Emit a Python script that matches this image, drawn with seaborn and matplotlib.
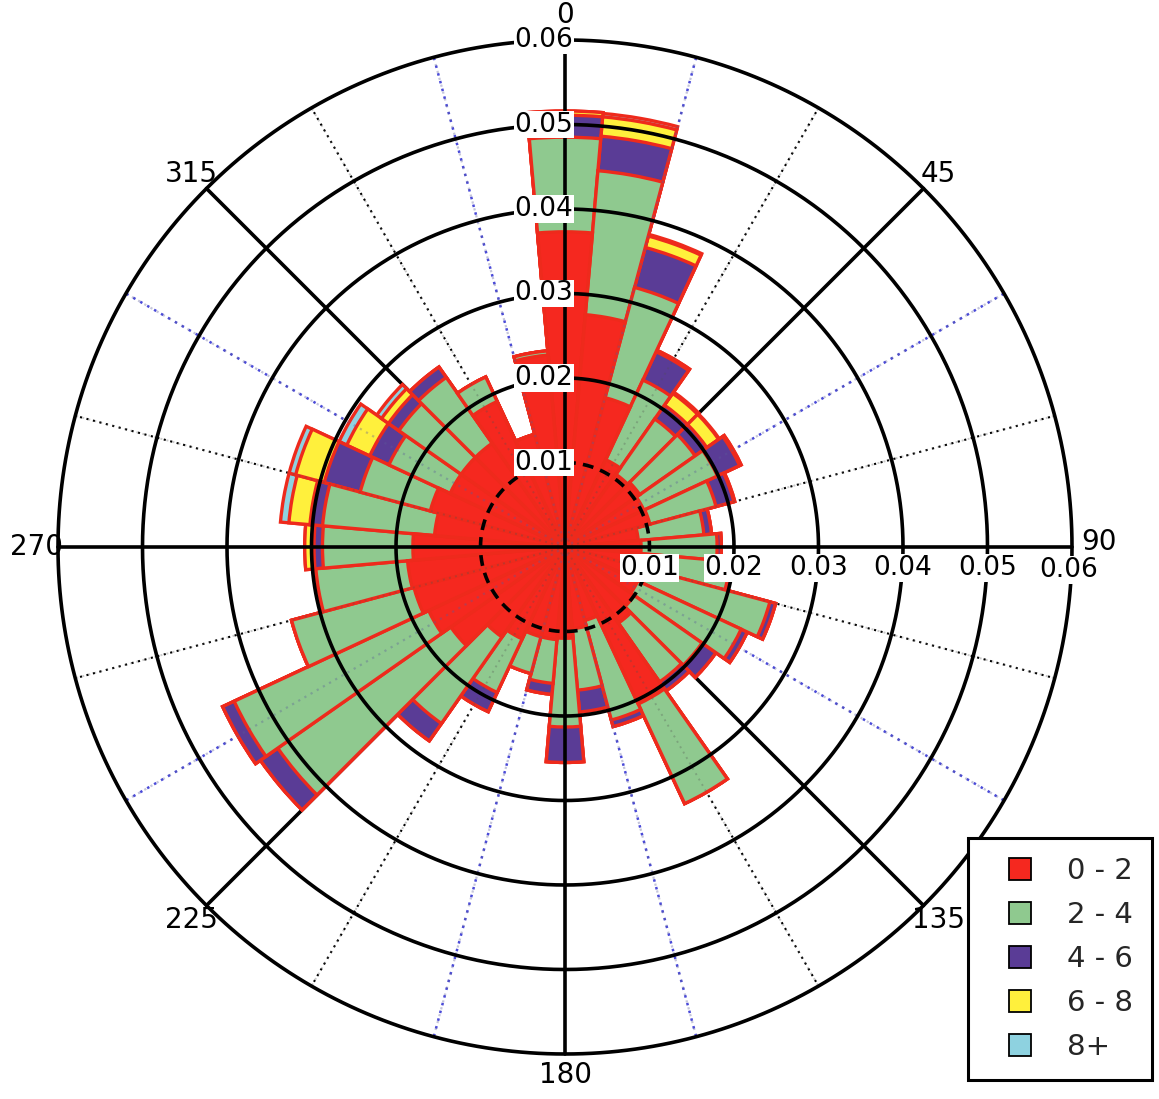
import numpy as np
import pandas as pd
import matplotlib
matplotlib.use("Agg")
import matplotlib.pyplot as plt
import seaborn as sns
from matplotlib.lines import Line2D
from matplotlib.transforms import offset_copy

# ---------------- data ----------------
directions = [0, 10, 20, 30, 40, 50, 60, 70, 80, 90, 100, 110,
              120, 130, 140, 150, 160, 170, 180, 190, 200, 210, 220, 230,
              240, 250, 260, 270, 280, 290, 300, 310, 320, 330, 340, 350]

speed_0_2 = [0.0373, 0.0276, 0.0183, 0.0114, 0.0105, 0.0108, 0.0103, 0.0104, 0.0087, 0.0090, 0.0085, 0.0095,
             0.0095, 0.0100, 0.0110, 0.0205, 0.0090, 0.0097, 0.0108, 0.0110, 0.0110, 0.0120, 0.0130, 0.0165,
             0.0178, 0.0185, 0.0187, 0.0180, 0.0155, 0.0165, 0.0150, 0.0150, 0.0150, 0.0190, 0.0138, 0.0228]
speed_2_4 = [0.0112, 0.0171, 0.0135, 0.0104, 0.0080, 0.0080, 0.0096, 0.0081, 0.0078, 0.0090, 0.0111, 0.0156,
             0.0135, 0.0098, 0.0085, 0.0130, 0.0122, 0.0073, 0.0105, 0.0052, 0.0045, 0.0070, 0.0125, 0.0250,
             0.0254, 0.0150, 0.0109, 0.0107, 0.0133, 0.0086, 0.0080, 0.0090, 0.0095, 0.0032, 0.0000, 0.0005]
speed_4_6 = [0.0026, 0.0041, 0.0049, 0.0037, 0.0020, 0.0017, 0.0029, 0.0022, 0.0009, 0.0005, 0.0003, 0.0007,
             0.0008, 0.0020, 0.0013, 0.0000, 0.0008, 0.0026, 0.0042, 0.0013, 0.0000, 0.0025, 0.0025, 0.0025,
             0.0015, 0.0000, 0.0000, 0.0010, 0.0015, 0.0044, 0.0025, 0.0015, 0.0015, 0.0000, 0.0000, 0.0000]
speed_6_8 = [0.0005, 0.0023, 0.0014, 0.0002, 0.0017, 0.0017, 0.0002, 0.0001, 0.0000, 0.0000, 0.0000, 0.0000,
             0.0000, 0.0000, 0.0000, 0.0000, 0.0000, 0.0000, 0.0000, 0.0000, 0.0000, 0.0000, 0.0000, 0.0000,
             0.0000, 0.0000, 0.0000, 0.0011, 0.0025, 0.0035, 0.0030, 0.0010, 0.0000, 0.0000, 0.0000, 0.0000]
speed_8_up = [0.0000, 0.0004, 0.0002, 0.0000, 0.0002, 0.0001, 0.0000, 0.0000, 0.0000, 0.0000, 0.0000, 0.0000,
              0.0000, 0.0000, 0.0000, 0.0000, 0.0000, 0.0000, 0.0000, 0.0000, 0.0000, 0.0000, 0.0000, 0.0000,
              0.0000, 0.0000, 0.0000, 0.0000, 0.0010, 0.0008, 0.0010, 0.0007, 0.0000, 0.0000, 0.0000, 0.0000]

class_labels = ["0 - 2", "2 - 4", "4 - 6", "6 - 8", "8+"]
radial_ticks = [0.01, 0.02, 0.03, 0.04, 0.05, 0.06]
radial_tick_labels = ["0.01", "0.02", "0.03", "0.04", "0.05", "0.06"]
angle_ticks = [0, 45, 90, 135, 180, 225, 270, 315]
angle_tick_labels = ["0", "45", "90", "135", "180", "225", "270", "315"]

# ---------------- style ----------------
class_colors = ["#f5281f", "#8fc98f", "#5a3c96", "#fff03c", "#8ed2e0"]
edge_red = "#ee2a1c"
blue_dotted = [15, 60, 120, 165, 195, 240, 300, 345]
black_dotted = [30, 75, 105, 150, 210, 255, 285, 330]

sns.set_theme(style="white")
plt.rcParams["font.family"] = ["DejaVu Sans"]

fig = plt.figure(figsize=(11.59, 10.99), dpi=100)
fig.patch.set_facecolor("white")
ax = fig.add_axes([58 / 1159, 45 / 1099, 1014 / 1159, 1014 / 1099], projection="polar")
ax.set_theta_zero_location("N")
ax.set_theta_direction(-1)
ax.set_facecolor("white")

theta = np.deg2rad(directions)
layers = np.vstack([speed_0_2, speed_2_4, speed_4_6, speed_6_8, speed_8_up])
cum = np.cumsum(layers, axis=0)

# draw cumulative bars from outermost class to innermost (overlay stacking)
for k in reversed(range(len(class_labels))):
    d = pd.DataFrame({"theta": theta, "r": cum[k]})
    sns.barplot(data=d, x="theta", y="r", native_scale=True, width=1.0,
                color=class_colors[k], saturation=1, edgecolor=edge_red,
                linewidth=2.4, errorbar=None, ax=ax, zorder=2)

ax.set_xlabel("")
ax.set_ylabel("")
ax.set_xticks([])
ax.set_yticks([])
ax.grid(False)
ax.spines["polar"].set_visible(False)
ax.set_ylim(0, 0.06)

full = np.linspace(0, 2 * np.pi, 721)
R = 0.06
# diagonal solid spokes (under bars)
for a in [45, 135, 225, 315]:
    ax.plot([np.deg2rad(a)] * 2, [0, R], color="black", lw=2.6, zorder=1, clip_on=False)
# dotted spokes: full strength beneath the bars, faint over them
for a in blue_dotted:
    ax.plot([np.deg2rad(a)] * 2, [0, R], color="#4a4ad8", lw=1.8, ls=(0, (1, 2.2)), zorder=1, clip_on=False)
    ax.plot([np.deg2rad(a)] * 2, [0, R], color="#5a5a9a", lw=1.6, ls=(0, (1, 2.2)), zorder=4, alpha=0.35)
for a in black_dotted:
    ax.plot([np.deg2rad(a)] * 2, [0, R], color="black", lw=1.5, ls=(0, (1, 2.2)), zorder=1, clip_on=False)
    ax.plot([np.deg2rad(a)] * 2, [0, R], color="#505050", lw=1.4, ls=(0, (1, 2.2)), zorder=4, alpha=0.3)
# main axes lines
for a in [0, 90, 180, 270]:
    ax.plot([np.deg2rad(a)] * 2, [0, R], color="black", lw=2.6, zorder=5, clip_on=False)
# circles
for rv in radial_ticks:
    if rv == 0.01:
        ax.plot(full, np.full_like(full, rv), color="black", lw=2.6, ls=(0, (3, 2)), zorder=5, clip_on=False)
    else:
        ax.plot(full, np.full_like(full, rv), color="black", lw=2.6, zorder=5, clip_on=False)

# radial labels along north axis and east axis
tr_up = offset_copy(ax.transData, fig=fig, x=-21, y=0, units="dots")
tr_right = offset_copy(ax.transData, fig=fig, x=0, y=-21, units="dots")
tr_right_last = offset_copy(ax.transData, fig=fig, x=-3, y=-23, units="dots")
for rv, lab in zip(radial_ticks, radial_tick_labels):
    ax.text(0, rv, lab, transform=tr_up, ha="center", va="center", fontsize=19,
            color="black", zorder=6, clip_on=False,
            bbox=dict(facecolor="white", edgecolor="none", pad=0.3))
    ax.text(np.pi / 2, rv, lab, transform=tr_right_last if rv == 0.06 else tr_right,
            ha="center", va="center", fontsize=19,
            color="black", zorder=6, clip_on=False,
            bbox=dict(facecolor="white", edgecolor="none", pad=0.3))

# angle labels
tr_ninety = offset_copy(ax.transData, fig=fig, x=2, y=5, units="dots")
for a, lab in zip(angle_ticks, angle_tick_labels):
    rr = 0.0630 if a in (0, 90) else 0.0625
    ax.text(np.deg2rad(a), rr, lab, ha="center", va="center", fontsize=20,
            color="black", zorder=7, clip_on=False,
            transform=tr_ninety if a == 90 else ax.transData)

# legend
handles = [Line2D([], [], marker="s", linestyle="none", markersize=16,
                  markerfacecolor=c, markeredgecolor="black", markeredgewidth=1.3)
           for c in class_colors]
leg = fig.legend(handles, class_labels, loc="lower right",
                 bbox_to_anchor=(1152 / 1159, 19 / 1099), frameon=True, fancybox=False,
                 edgecolor="black", framealpha=1, fontsize=21, handlelength=2.3,
                 handletextpad=0.45, labelspacing=0.55, borderpad=0.65, borderaxespad=0)
leg.get_frame().set_linewidth(2.2)

fig.savefig("out.png", dpi=100, facecolor="white")
